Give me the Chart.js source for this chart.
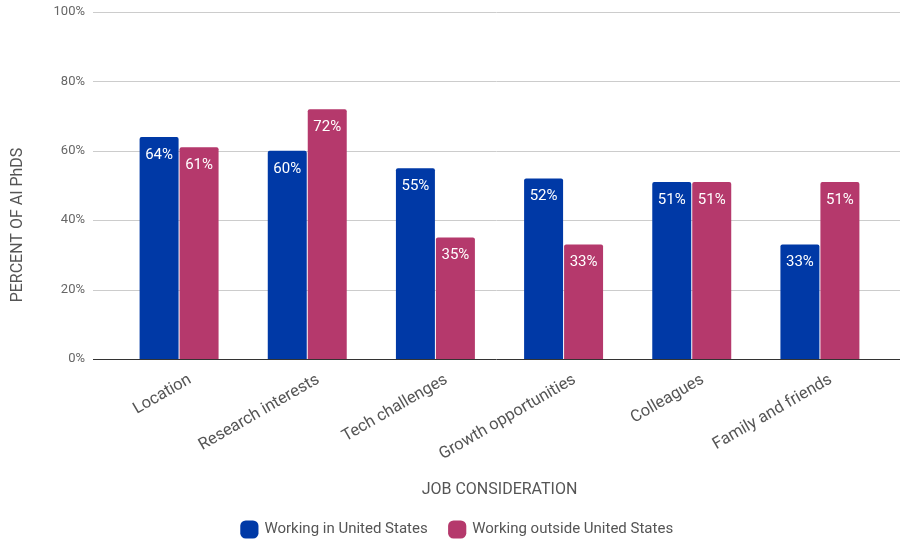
<!DOCTYPE html>
<html>
<head>
<meta charset="utf-8">
<script src="https://cdn.jsdelivr.net/npm/chart.js@4/dist/chart.umd.min.js"></script>
<style>
  html, body { margin: 0; padding: 0; background: #fff; }
  #wrap { width: 901px; height: 542px; }
</style>
</head>
<body>
<div id="wrap"><canvas id="phdChart"></canvas></div>
<script>
const categories = ["Location", "Research interests", "Tech challenges", "Growth opportunities", "Colleagues", "Family and friends"];
const inUS = [64, 60, 55, 52, 51, 33];
const outsideUS = [61, 72, 35, 33, 51, 51];
const yTicks = [0, 20, 40, 60, 80, 100];
const yTitle = "PERCENT OF AI PhDS";

// horizontal grid runs a bit wider than the bar area on both sides
const GRID_LEFT = 93;
const GRID_RIGHT = 900;

const wideGrid = {
  id: "wideGrid",
  beforeDatasetsDraw(chart) {
    const { ctx, scales: { y } } = chart;
    ctx.save();
    ctx.lineWidth = 1;
    ctx.strokeStyle = "#cccccc";
    yTicks.forEach(v => {
      if (v === 0) return;
      const py = Math.round(y.getPixelForValue(v)) + 0.5;
      ctx.beginPath();
      ctx.moveTo(GRID_LEFT, py);
      ctx.lineTo(GRID_RIGHT, py);
      ctx.stroke();
    });
    ctx.restore();
  },
  afterDatasetsDraw(chart) {
    const { ctx, scales: { y } } = chart;
    const py = Math.round(y.getPixelForValue(0)) + 0.5;
    ctx.save();
    ctx.strokeStyle = "#333333";
    ctx.lineWidth = 1;
    ctx.beginPath();
    ctx.moveTo(GRID_LEFT, py);
    ctx.lineTo(GRID_RIGHT, py);
    ctx.stroke();
    ctx.restore();
  }
};

// white value labels just inside the top of every bar
const barValues = {
  id: "barValues",
  afterDatasetsDraw(chart) {
    const { ctx } = chart;
    ctx.save();
    ctx.fillStyle = "#ffffff";
    ctx.font = "15px Roboto";
    ctx.textAlign = "center";
    ctx.textBaseline = "middle";
    chart.data.datasets.forEach((ds, i) => {
      chart.getDatasetMeta(i).data.forEach((bar, j) => {
        ctx.fillText(ds.data[j] + "%", bar.x, bar.y + 18);
      });
    });
    ctx.restore();
  }
};

// vertical axis title, sits lower than the plot middle
const sideTitle = {
  id: "sideTitle",
  afterDraw(chart) {
    const { ctx } = chart;
    ctx.save();
    ctx.translate(18, 225);
    ctx.rotate(-Math.PI / 2);
    ctx.fillStyle = "#555";
    ctx.font = "16px Roboto";
    ctx.textAlign = "center";
    ctx.textBaseline = "middle";
    ctx.fillText(yTitle, 0, 0);
    ctx.restore();
  }
};

new Chart(document.getElementById("phdChart"), {
  type: "bar",
  data: {
    labels: categories,
    datasets: [
      { label: "Working in United States", data: inUS, backgroundColor: "#0039a6", borderRadius: { topLeft: 2, topRight: 2 }, borderSkipped: "bottom" },
      { label: "Working outside United States", data: outsideUS, backgroundColor: "#b5396c", borderRadius: { topLeft: 2, topRight: 2 }, borderSkipped: "bottom" }
    ]
  },
  options: {
    responsive: true,
    maintainAspectRatio: false,
    animation: false,
    layout: { padding: { left: 31, right: 17, top: 12, bottom: 0 } },
    datasets: { bar: { categoryPercentage: 0.624, barPercentage: 0.975 } },
    plugins: {
      legend: {
        position: "bottom",
        maxHeight: 42,
        labels: {
          usePointStyle: true,
          pointStyle: "rectRounded",
          boxWidth: 16,
          boxHeight: 16,
          padding: 22,
          color: "#555",
          font: { family: "Roboto", size: 15 }
        }
      },
      tooltip: { enabled: false }
    },
    scales: {
      x: {
        afterFit(scale) { scale.height = 141; },
        grid: { display: false },
        border: { display: false },
        ticks: { color: "#555", font: { family: "Roboto", size: 16.5 }, minRotation: 30, maxRotation: 30, padding: 3, labelOffset: 11 },
        title: { display: true, text: "JOB CONSIDERATION", color: "#555", font: { family: "Roboto", size: 16 }, padding: { top: 0, bottom: 0 } }
      },
      y: {
        min: 0,
        max: 100,
        afterBuildTicks(scale) { scale.ticks = yTicks.map(v => ({ value: v })); },
        afterFit(scale) {
          scale.width = 84;
          scale.paddingTop = 0;
          scale.paddingBottom = 0;
        },
        grid: { display: false, drawTicks: false },
        border: { display: false },
        ticks: { color: "#666", font: { family: "Roboto", size: 13 }, padding: 30, callback: v => v + "%" },
        title: { display: false }
      }
    }
  },
  plugins: [wideGrid, barValues, sideTitle]
});
</script>
</body>
</html>
